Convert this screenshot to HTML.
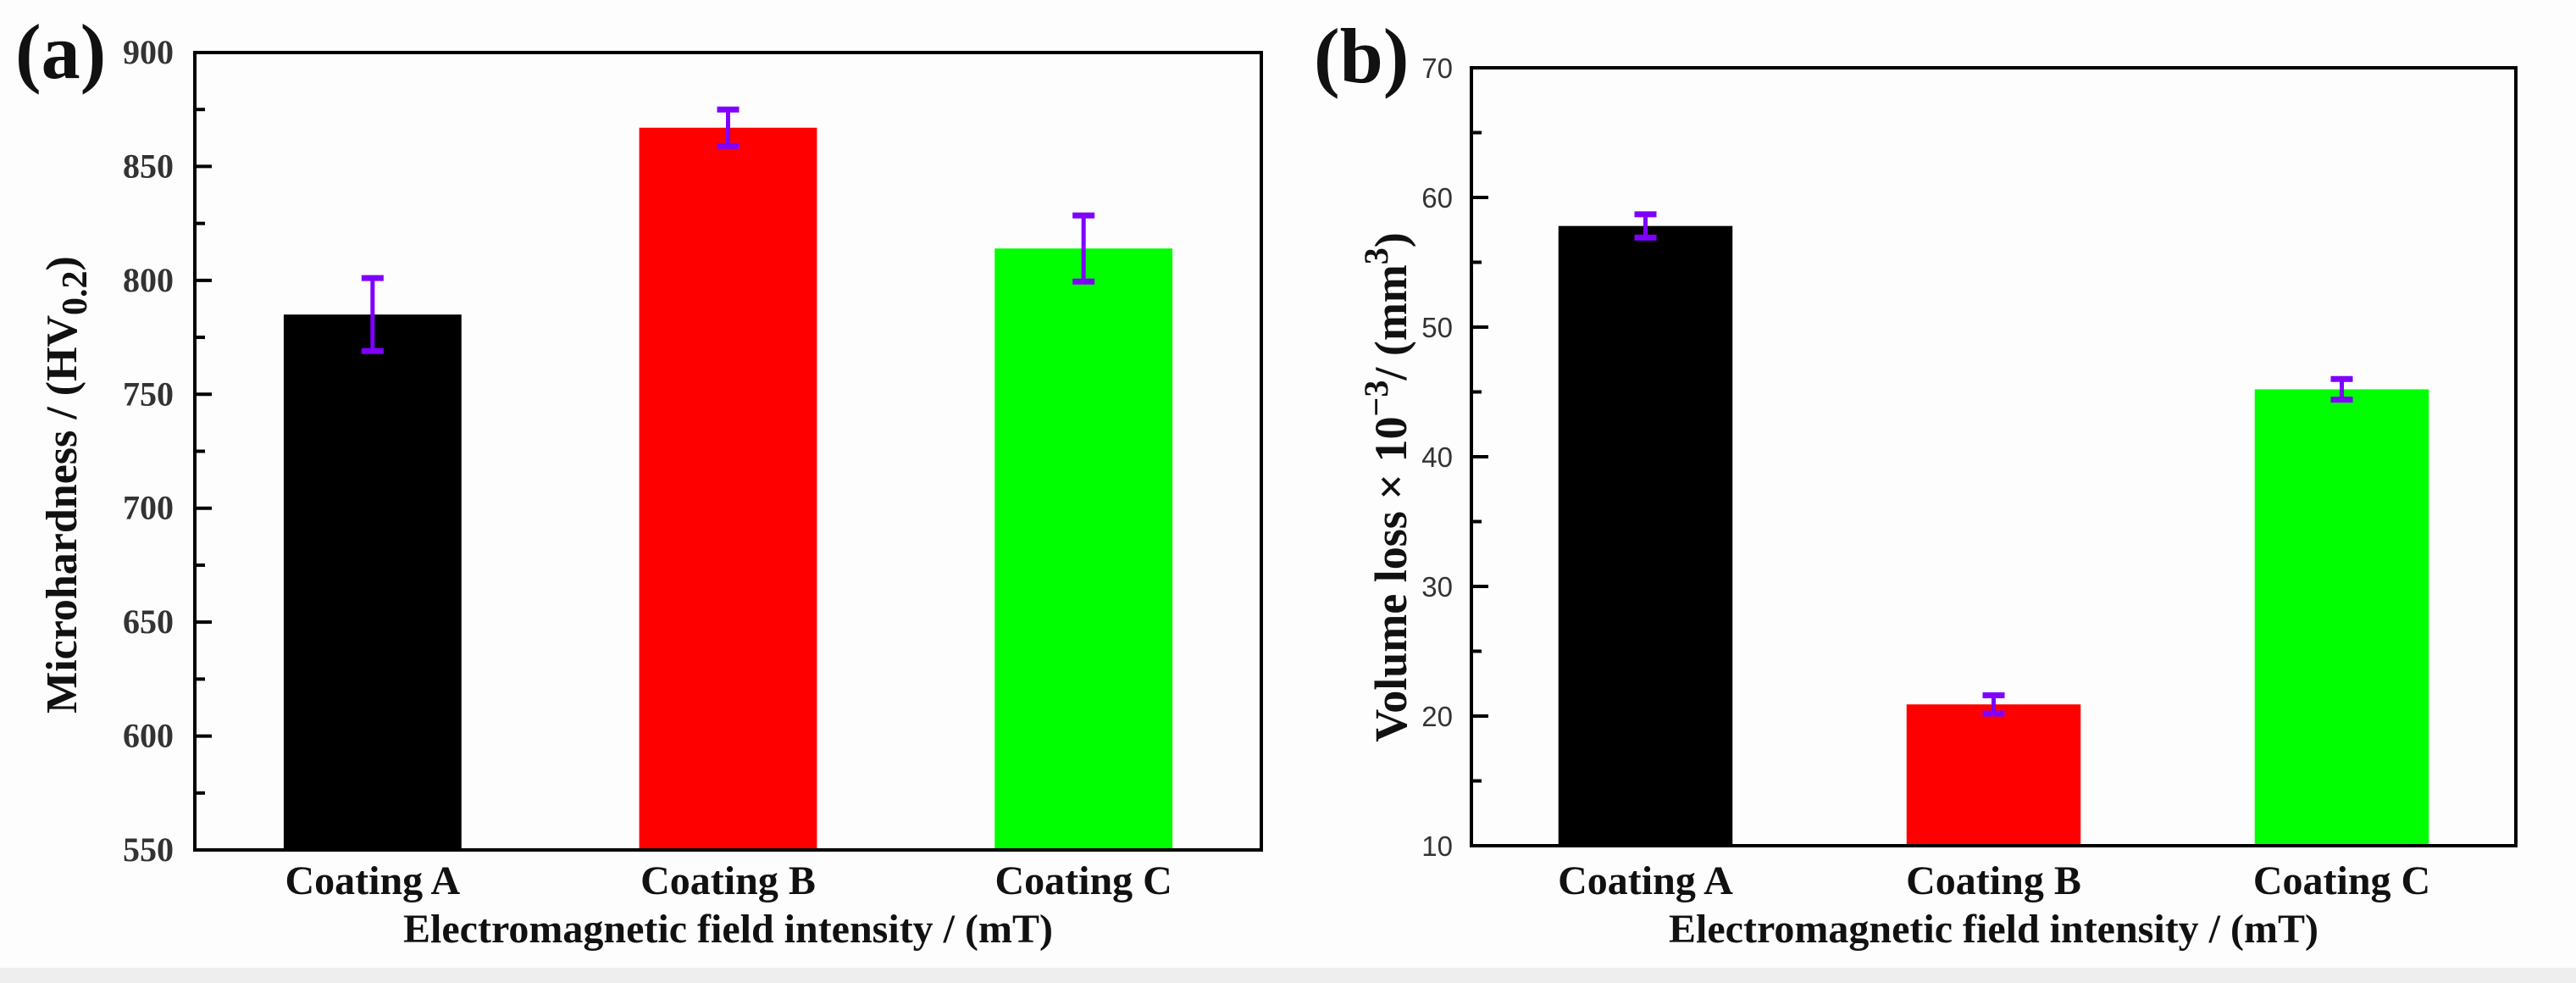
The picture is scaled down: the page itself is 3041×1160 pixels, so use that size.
<!DOCTYPE html>
<html><head><meta charset="utf-8"><style>
html,body{margin:0;padding:0;background:#fff;}
svg{display:block;}
.lab{font-family:"Liberation Serif",serif;font-weight:bold;fill:#111;}
</style></head><body>
<svg id="chart" width="3041" height="1160" viewBox="0 0 3041 1160" xmlns="http://www.w3.org/2000/svg">
<rect width="3041" height="1160" fill="#fdfdfd"/>
<rect x="0" y="1142" width="3041" height="18" fill="#eeeeee"/>
</svg>
<script>
const categories = ["Coating A","Coating B","Coating C"];
const hardnessValues = [785, 867, 814];
const hardnessErrors = [16, 8, 14.5];
const hardnessTicks = [550,600,650,700,750,800,850,900];
const lossValues = [57.8, 20.9, 45.2];
const lossErrors = [0.9, 0.7, 0.8];
const lossTicks = [10,20,30,40,50,60,70];
const barColors = ["#000000","#ff0000","#00ff00"];

const NS="http://www.w3.org/2000/svg";
const svg=document.getElementById('chart');
function mk(tag,attrs,parent){const e=document.createElementNS(NS,tag);for(const k in attrs)e.setAttribute(k,attrs[k]);(parent||svg).appendChild(e);return e;}

function panel(p){
  const g=mk('g',{});
  
  
  const ymin=p.ticks[0], ymax=p.ticks[p.ticks.length-1];
  const y=v=>p.bottom-(v-ymin)/(ymax-ymin)*(p.bottom-p.top);
  const band=(p.right-p.left)/categories.length;
  const x=i=>p.left+band*(i+0.5);
  const bw=band*0.5;
  p.values.forEach((v,i)=>{
    const r=mk('rect',{x:x(i)-bw/2,y:y(v),width:bw,height:p.bottom-y(v),fill:barColors[i]},g);
    
    
    const e=p.errors[i], cx=x(i);
    const eg=mk('g',{stroke:'#7f00ff','stroke-width':5},g);
    
    
    mk('line',{x1:cx,x2:cx,y1:y(v+e),y2:y(v-e)},eg);
    mk('line',{x1:cx-13,x2:cx+13,y1:y(v+e),y2:y(v+e),'stroke-width':7},eg);
    mk('line',{x1:cx-13,x2:cx+13,y1:y(v-e),y2:y(v-e),'stroke-width':7},eg);
    const t=mk('text',{x:cx,y:1055,'text-anchor':'middle','class':'lab','font-size':48},g);
    t.textContent=categories[i];
    
    
  });
  const fr=mk('rect',{x:p.left,y:p.top,width:p.right-p.left,height:p.bottom-p.top,fill:'none',stroke:'#000','stroke-width':4},g);
  
  
  const step=p.ticks[1]-p.ticks[0];
  p.ticks.forEach((t,k)=>{
    mk('line',{x1:p.left,x2:p.left+20,y1:y(t),y2:y(t),stroke:'#000','stroke-width':4},g);
    if(k<p.ticks.length-1) mk('line',{x1:p.left,x2:p.left+12,y1:y(t+step/2),y2:y(t+step/2),stroke:'#000','stroke-width':4},g);
    const tl=mk('text',{x:p.tickX,y:y(t)+p.tickDy,'text-anchor':'end','font-family':p.tickFont,'font-weight':p.tickWeight,'font-size':p.tickSize,fill:'#333'},g);
    tl.textContent=t;
    
    
  });
  const xt=mk('text',{x:(p.left+p.right)/2,y:1112,'text-anchor':'middle','class':'lab','font-size':48},g);
  xt.textContent='Electromagnetic field intensity / (mT)';
  
  
  const yt=mk('text',{x:0,y:0,'text-anchor':'middle','class':'lab','font-size':p.ytSize,transform:`translate(${p.ytx},${p.yty}) rotate(-90)`},g);
  yt.innerHTML=p.ytitle;
  
  
  const pl=mk('text',{x:p.lx,y:p.ly,'class':'lab','font-size':92},g);
  pl.textContent=p.letter;
  
  
}
panel({id:'a',left:230,right:1489,top:62,bottom:1003,values:hardnessValues,errors:hardnessErrors,ticks:hardnessTicks,
  ytx:90,yty:572,ytSize:52,letter:'(a)',lx:18,ly:92,
  tickX:205,tickDy:13,tickFont:'"Liberation Serif",serif',tickWeight:'bold',tickSize:40,
  ytitle:'Microhardness / (HV<tspan font-size="42" dy="12">0.2</tspan><tspan dy="-12">)</tspan>'});
panel({id:'b',left:1737,right:2970,top:80,bottom:998,values:lossValues,errors:lossErrors,ticks:lossTicks,
  ytx:1660,yty:575,ytSize:54,letter:'(b)',lx:1551,ly:97,
  tickX:1715,tickDy:12,tickFont:'"Liberation Sans",sans-serif',tickWeight:'normal',tickSize:33,
  ytitle:'Volume loss × 10<tspan font-size="40" dy="-22">−3</tspan><tspan dy="22">/ (mm</tspan><tspan font-size="40" dy="-22">3</tspan><tspan dy="22">)</tspan>'});
</script>
</body></html>
